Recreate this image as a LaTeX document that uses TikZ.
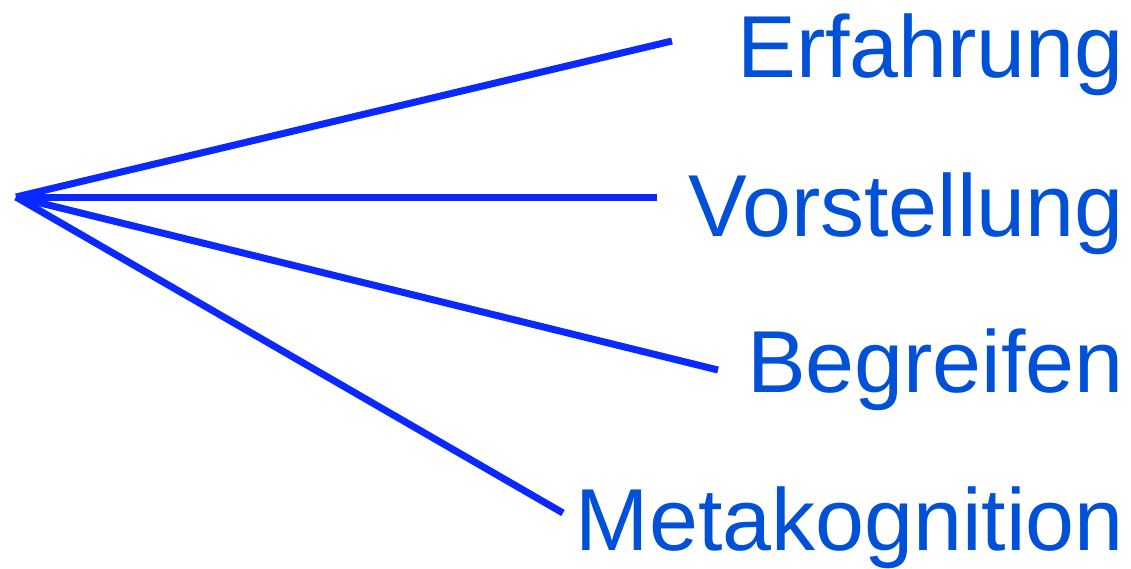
\documentclass[tikz,border=0pt]{standalone}
\usepackage{fontspec}
\setmainfont{Liberation Sans}
\definecolor{linecol}{HTML}{0A28FF}
\definecolor{textcol}{HTML}{0050D8}
\begin{document}
\begin{tikzpicture}[x=1pt,y=-1pt,
  conn/.style={draw=linecol, line width=7pt},
  lbl/.style={text=textcol, inner sep=0pt, anchor=base east, font=\fontsize{88}{98}\selectfont}]
\useasboundingbox (0,0) rectangle (1131,568);
\coordinate (o) at (16,197);
\coordinate (e1) at (672,41);
\coordinate (e2) at (657,197);
\coordinate (e3) at (718,370);
\coordinate (e4) at (563,513);
\draw[conn] (o) -- (e1);
\draw[conn] (o) -- (e2);
\draw[conn] (o) -- (e3);
\draw[conn] (o) -- (e4);
\node[lbl] (t1) at (1124,77) {Erfahrung};
\node[lbl] (t2) at (1124,236) {Vorstellung};
\node[lbl] (t3) at (1124,392) {Begreifen};
\node[lbl] (t4) at (1124,550) {Metakognition};
\end{tikzpicture}
\end{document}
